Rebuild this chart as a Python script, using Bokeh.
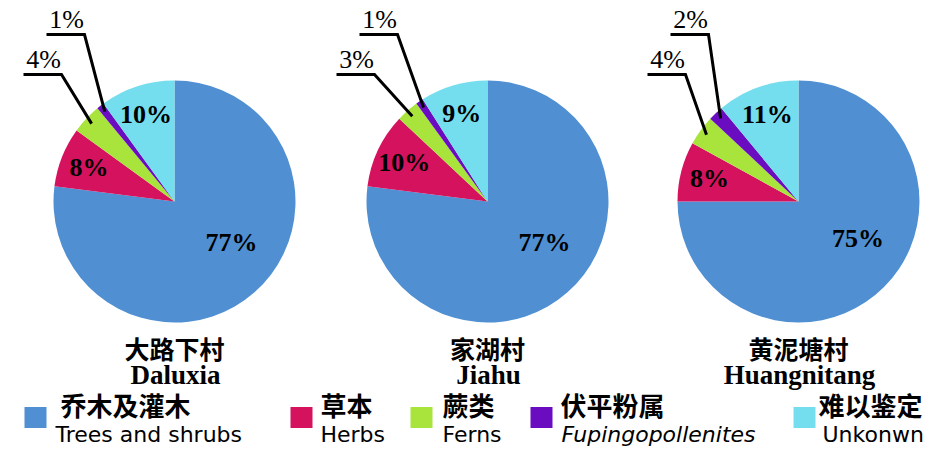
import numpy as np
from bokeh.plotting import figure
from bokeh.models import Range1d, ColumnDataSource
from bokeh.core.properties import value
from bokeh.embed import file_html
from bokeh.resources import INLINE

# ---------------- data ----------------
sites_cn = ["大路下村", "家湖村", "黄泥塘村"]
sites_en = ["Daluxia", "Jiahu", "Huangnitang"]
cat_cn = ["乔木及灌木", "草本", "蕨类", "伏平粉属", "难以鉴定"]
cat_en = ["Trees and shrubs", "Herbs", "Ferns", "Fupingopollenites", "Unkonwn"]
daluxia = [77, 8, 4, 1, 10]
jiahu = [77, 10, 3, 1, 9]
huangnitang = [75, 8, 4, 2, 11]
site_values = [daluxia, jiahu, huangnitang]
colors = ["#4F8FD2", "#D5125E", "#A8E43C", "#6A0CC0", "#74DDEE"]

# ---------------- layout ----------------
W, H = 930, 447
p = figure(width=W, height=H, x_range=Range1d(0, W), y_range=Range1d(-H, 0),
           output_backend="svg", toolbar_location=None, min_border=0,
           x_axis_type=None, y_axis_type=None)
p.outline_line_color = None
p.background_fill_color = "white"
p.border_fill_color = "white"

centers_x = [174, 487, 798]
center_y = -201
R = 121
serif = value("Liberation Serif")
cjk = value("Noto Sans CJK SC")
sans = value("DejaVu Sans")

leader_levels = [-74, -34]
leader_dx = [-113, -90]
leader_len = 38

for cx, vals_raw, tcn, ten in zip(centers_x, site_values, sites_cn, sites_en):
    vals = np.array(vals_raw, dtype=float) / 100.0
    cum = np.concatenate([[0.0], np.cumsum(vals)])
    start = np.pi / 2 - 2 * np.pi * cum[:-1]
    end = np.pi / 2 - 2 * np.pi * cum[1:]
    mid = (start + end) / 2
    src = ColumnDataSource(dict(start=start, end=end, color=colors))
    p.wedge(x=cx, y=center_y, radius=R, start_angle="start", end_angle="end",
            direction="clock", fill_color="color", line_color=None, source=src)

    big = int(np.argmax(vals_raw))
    lx, ly, lt = [], [], []
    small_i = 0
    for k, v in enumerate(vals_raw):
        if v >= 5:
            if k == big:
                r, a = 0.58 * R, mid[k] + np.radians(13)
            else:
                r, a = 0.76 * R, mid[k]
            lx.append(cx + r * np.cos(a))
            ly.append(center_y + r * np.sin(a))
            lt.append(f"{v}%")
        else:
            ex = cx + 0.94 * R * np.cos(mid[k])
            ey = center_y + 0.94 * R * np.sin(mid[k])
            lev = leader_levels[small_i]
            elx = cx + leader_dx[small_i]
            p.line([elx - leader_len, elx, ex], [lev, lev, ey], line_color="black",
                   line_width=3, line_join="miter")
            p.text(x=[elx - leader_len / 2 + 1], y=[lev + 15], text=[f"{v}%"],
                   text_font=serif, text_font_size="26px", text_align="center",
                   text_baseline="middle", text_color="black")
            small_i += 1
    p.text(x=lx, y=ly, text=lt, text_font=serif, text_font_size="26px",
           text_font_style="bold", text_align="center", text_baseline="middle",
           text_color="black")

    p.text(x=[cx], y=[-347], text=[tcn], text_font=cjk, text_font_size="25px",
           text_font_style="bold", text_align="center", text_baseline="middle",
           text_color="black")
    p.text(x=[cx + 1], y=[-374], text=[ten], text_font=serif, text_font_size="27px",
           text_font_style="bold", text_align="center", text_baseline="middle",
           text_color="black")

# ---------------- legend ----------------
sq_x = [35, 301, 421, 541, 804]
cn_x = [60, 320, 442, 560, 818]
en_x = [55, 320, 442, 561, 822]
p.rect(x=sq_x, y=[-417] * 5, width=22, height=21, fill_color=colors, line_color=None)
p.text(x=cn_x, y=[-404] * 5, text=cat_cn, text_font=cjk, text_font_size="26px",
       text_font_style="bold", text_align="left", text_baseline="middle",
       text_color="black")
for k in range(5):
    p.text(x=[en_x[k]], y=[-434], text=[cat_en[k]], text_font=sans,
           text_font_size="22px", text_font_style="italic" if k == 3 else "normal",
           text_align="left", text_baseline="middle", text_color="black")

open("out.html", "w").write(file_html(p, INLINE))
